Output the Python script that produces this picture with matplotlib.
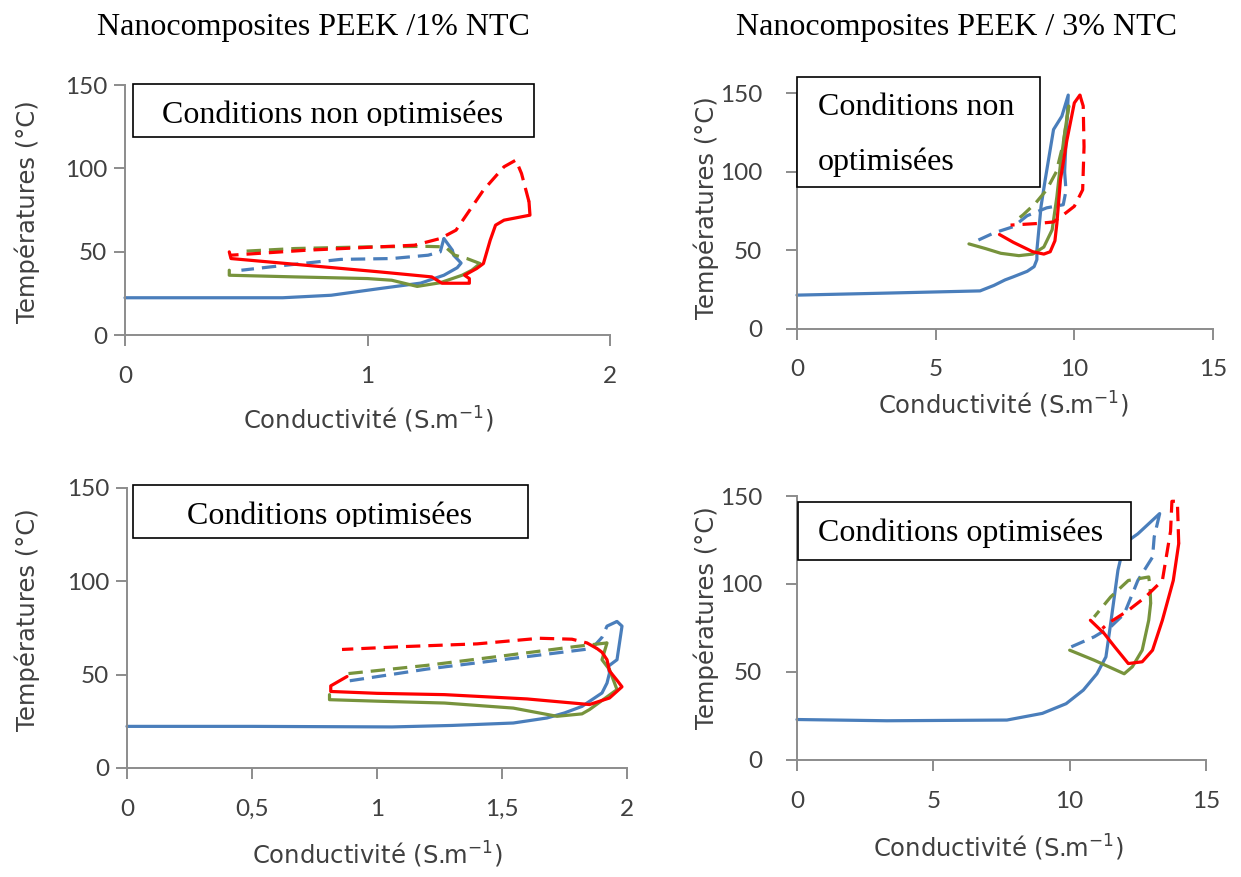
import matplotlib
matplotlib.use('Agg')
import matplotlib.pyplot as plt
from matplotlib.patches import Rectangle

# ---- data ----
# top left : PEEK / 1% NTC, conditions non optimisees
tl_blue_x = [0, 0.3, 0.65, 0.85, 1.05, 1.22, 1.315, 1.37, 1.386, 1.355, 1.35, 1.315]
tl_blue_y = [22.5, 22.5, 22.5, 24, 28, 31.3, 36, 40.5, 43.3, 48, 51, 58]
tl_blue_d_x = [1.315, 1.30, 1.25, 1.1, 0.89, 0.6, 0.48]
tl_blue_d_y = [58, 50, 48, 46, 45.5, 41, 39]
tl_green_x = [0.43, 0.43, 0.7, 1.0, 1.1, 1.205, 1.3, 1.39, 1.43, 1.464]
tl_green_y = [39, 36, 35, 34, 33, 29.3, 31.5, 36, 39, 43]
tl_green_d_x = [1.464, 1.41, 1.36, 1.32, 1.24, 1.0, 0.7, 0.48]
tl_green_d_y = [43, 46, 48, 53, 53.3, 53, 52, 50.3]
tl_red_x = [0.43, 0.437, 1.05, 1.265, 1.307, 1.42, 1.42, 1.40, 1.45, 1.478, 1.506, 1.528, 1.563, 1.67, 1.666]
tl_red_y = [50, 46, 38, 35, 31.2, 31.2, 34, 36, 40, 43, 57, 66, 69, 72, 80]
tl_red_d_x = [1.666, 1.635, 1.612, 1.563, 1.478, 1.365, 1.30, 1.194, 0.75, 0.437]
tl_red_d_y = [80, 97, 105, 101, 87, 63, 58, 54, 51, 48]

# top right : PEEK / 3% NTC, conditions non optimisees
tr_blue_x = [0, 3, 6.6, 7.1, 7.5, 7.8, 8.3, 8.55, 8.65, 8.65, 8.8, 8.95, 9.25, 9.55, 9.78, 9.7, 9.65]
tr_blue_y = [21.3, 22.5, 24, 27.5, 31, 33, 36.5, 39.5, 44, 50, 78, 95, 127, 135.5, 149, 120, 100]
tr_blue_d_x = [9.65, 9.7, 9.6, 9.0, 8.3, 7.8, 7.1, 6.3]
tr_blue_d_y = [100, 88, 79, 77, 72, 65, 61, 54.5]
tr_green_x = [6.2, 6.8, 7.35, 8.0, 8.5, 8.9, 9.2, 9.37, 9.5, 9.67, 9.8]
tr_green_y = [54, 51, 48, 46.5, 47.5, 52, 63, 84, 105, 127, 142]
tr_green_d_x = [9.8, 9.6, 9.35, 9.0, 8.6, 8.15, 7.9]
tr_green_d_y = [142, 118, 100, 88.5, 80, 72.5, 69]
tr_red_x = [7.3, 7.8, 8.5, 8.9, 9.13, 9.3, 9.37, 9.5, 9.73, 10.0, 10.2]
tr_red_y = [60, 55, 49, 47.5, 49, 56, 67, 95, 120, 144, 149]
tr_red_d_x = [10.2, 10.32, 10.35, 10.3, 10.0, 9.6, 9.25, 8.65, 7.7]
tr_red_d_y = [149, 142, 116, 88.5, 78, 72.5, 68, 67, 66]

# bottom left : PEEK / 1% NTC, conditions optimisees
bl_blue_x = [0, 0.5, 1.06, 1.3, 1.545, 1.68, 1.75, 1.82, 1.86, 1.90, 1.92, 1.93, 1.925, 1.96, 1.97, 1.98, 1.96]
bl_blue_y = [22.3, 22.3, 22, 22.8, 24.1, 26.8, 29.5, 33, 36.6, 40.2, 45.5, 50.9, 54.5, 58, 67, 76, 78.5]
bl_blue_d_x = [1.96, 1.92, 1.90, 1.86, 1.5, 1.2, 0.88]
bl_blue_d_y = [78.5, 76, 70, 64, 58, 53, 46.5]
bl_green_x = [0.81, 0.81, 1.0, 1.27, 1.545, 1.72, 1.82, 1.85, 1.96, 1.93, 1.90, 1.92]
bl_green_y = [39.3, 36.6, 35.8, 34.8, 32.1, 27.7, 29, 31.3, 42, 52.7, 58, 67]
bl_green_d_x = [1.92, 1.79, 1.5, 1.2, 0.88, 0.86]
bl_green_d_y = [67, 65, 60, 55, 50.5, 49.5]
bl_red_x = [0.88, 0.815, 0.815, 1.0, 1.27, 1.6, 1.85, 1.93, 1.98, 1.96, 1.93, 1.92, 1.90, 1.88]
bl_red_y = [49, 44, 41, 40, 39.3, 37, 34, 37.5, 43.5, 47, 52, 58, 62, 64]
bl_red_d_x = [1.88, 1.84, 1.78, 1.65, 1.4, 1.1, 0.86]
bl_red_d_y = [64, 67, 69, 69.5, 66.5, 65, 63.5]

# bottom right : PEEK / 3% NTC, conditions optimisees
br_blue_x = [0, 3.3, 7.7, 9.0, 9.87, 10.5, 11.0, 11.33, 11.52, 11.77, 12.0, 12.5, 13.3]
br_blue_y = [23, 22.3, 22.7, 26.5, 32, 39.7, 49, 58.6, 79.4, 107.8, 123, 128.5, 140]
br_blue_d_x = [13.3, 13.1, 13.04, 12.5, 12.0, 11.5, 10.9, 10.06]
br_blue_d_y = [140, 126.7, 115.3, 102, 83, 75.6, 70, 64.3]
br_green_x = [10.0, 10.9, 12.0, 12.3, 12.66, 12.9, 12.97]
br_green_y = [62.4, 56.7, 49, 53, 62.4, 79.4, 89]
br_green_d_x = [12.97, 12.95, 12.9, 12.15, 11.5, 10.9]
br_green_d_y = [89, 98, 104, 102, 92.6, 81.3]
br_red_x = [10.76, 11.27, 11.65, 12.15, 12.66, 13.04, 13.4, 13.8, 14.0]
br_red_y = [79.4, 71.8, 64.3, 54.8, 55.8, 62.4, 79.4, 102, 123]
br_red_d_x = [14.0, 13.95, 13.75, 13.7, 13.4, 12.78, 12.15, 11.4, 11.2]
br_red_d_y = [123, 147, 147, 130, 102, 92.6, 85, 77.5, 74.7]

x_ticks_small = [0, 1, 2]
x_ticks_half = [0, 0.5, 1, 1.5, 2]
x_tick_labels_half = ['0', '0,5', '1', '1,5', '2']
x_ticks_big = [0, 5, 10, 15]
y_ticks = [0, 50, 100, 150]

titles = ['Nanocomposites PEEK /1% NTC', 'Nanocomposites PEEK / 3% NTC']
xlabel = 'Conductivité (S.m$^{-1}$)'
ylabel = 'Températures (°C)'

# ---- style ----
W, H = 1241, 877
BLUE = '#4A7EBB'
GREEN = '#77933C'
RED = '#FF0000'
SPINE = '#8C8C8C'
TXT = '#404040'
LW = 2.3
DASH = (0, (4.5, 2.5))

plt.rcParams['mathtext.fontset'] = 'dejavusans'
plt.rcParams['font.family'] = ['Lato', 'DejaVu Sans']


def px(x, y):
    return x / W, 1 - y / H


def make_axes(fig, x0, x1, y0, y1):
    # x0..x1, y1 (top) .. y0 (bottom) in image pixels
    l, b = px(x0, y0)
    return fig.add_axes([l, b, (x1 - x0) / W, (y0 - y1) / H])


def style_axes(ax, ypad):
    for s in ['top', 'right']:
        ax.spines[s].set_visible(False)
    for s in ['left', 'bottom']:
        ax.spines[s].set_color(SPINE)
        ax.spines[s].set_linewidth(1.4)
    ax.tick_params(direction='out', length=8, width=1.4, color=SPINE,
                   labelsize=17.5, labelcolor=TXT)
    ax.tick_params(axis='y', pad=ypad)
    ax.tick_params(axis='x', pad=14)
    ax.set_ylim(0, 150)
    ax.set_yticks(y_ticks)
    ax.set_facecolor('none')


def draw(ax, series):
    for xs, ys, col, ls in series:
        ax.plot(xs, ys, color=col, lw=LW, linestyle=ls,
                solid_capstyle='round', dash_capstyle='butt', clip_on=False)


def box(fig, x0, y0, x1, y1, visible=True):
    l, b = px(x0, y1)
    r = Rectangle((l, b), (x1 - x0) / W, (y1 - y0) / H, transform=fig.transFigure,
                  facecolor='white', edgecolor='black', lw=1.2, zorder=5)
    if visible:
        fig.add_artist(r)
    return r


fig = plt.figure(figsize=(W / 100, H / 100), dpi=100)

ax_tl = make_axes(fig, 125, 610, 335.3, 85)
ax_tr = make_axes(fig, 797, 1213, 328.5, 93.5)
ax_bl = make_axes(fig, 127, 627, 768, 488)
ax_br = make_axes(fig, 797, 1206, 760, 496)

draw(ax_tl, [(tl_blue_x, tl_blue_y, BLUE, '-'), (tl_blue_d_x, tl_blue_d_y, BLUE, DASH),
             (tl_green_x, tl_green_y, GREEN, '-'), (tl_green_d_x, tl_green_d_y, GREEN, DASH),
             (tl_red_x, tl_red_y, RED, '-'), (tl_red_d_x, tl_red_d_y, RED, DASH)])
draw(ax_tr, [(tr_blue_x, tr_blue_y, BLUE, '-'), (tr_blue_d_x, tr_blue_d_y, BLUE, DASH),
             (tr_green_x, tr_green_y, GREEN, '-'), (tr_green_d_x, tr_green_d_y, GREEN, DASH),
             (tr_red_x, tr_red_y, RED, '-'), (tr_red_d_x, tr_red_d_y, RED, DASH)])
draw(ax_bl, [(bl_blue_x, bl_blue_y, BLUE, '-'), (bl_blue_d_x, bl_blue_d_y, BLUE, DASH),
             (bl_green_x, bl_green_y, GREEN, '-'), (bl_green_d_x, bl_green_d_y, GREEN, DASH),
             (bl_red_x, bl_red_y, RED, '-'), (bl_red_d_x, bl_red_d_y, RED, DASH)])
draw(ax_br, [(br_blue_x, br_blue_y, BLUE, '-'), (br_blue_d_x, br_blue_d_y, BLUE, DASH),
             (br_green_x, br_green_y, GREEN, '-'), (br_green_d_x, br_green_d_y, GREEN, DASH),
             (br_red_x, br_red_y, RED, '-'), (br_red_d_x, br_red_d_y, RED, DASH)])

style_axes(ax_tl, 5)
style_axes(ax_bl, 5)
style_axes(ax_tr, 17)
style_axes(ax_br, 17)

ax_tl.set_xlim(0, 2)
ax_tl.set_xticks(x_ticks_small)
ax_bl.set_xlim(0, 2)
ax_bl.set_xticks(x_ticks_half)
ax_bl.set_xticklabels(x_tick_labels_half)
for ax in (ax_tr, ax_br):
    ax.set_xlim(0, 15)
    ax.set_xticks(x_ticks_big)

# axis labels
for cx, cy in [(368, 420), (1003, 405), (377, 855), (998, 848)]:
    fig.text(*px(cx, cy), xlabel, ha='center', va='center', fontsize=17.5,
             color=TXT, family='DejaVu Sans')
for cx, cy in [(27, 212), (706, 208), (27, 620), (706, 618)]:
    fig.text(*px(cx, cy), ylabel, ha='center', va='center', rotation=90,
             fontsize=17.5, color=TXT, family='DejaVu Sans')

# column titles
serif = 'Liberation Serif'
fig.text(*px(313, 27), titles[0], ha='center', va='center', fontsize=23, family=serif)
fig.text(*px(957, 27), titles[1], ha='center', va='center', fontsize=23, family=serif)

# boxes with the condition labels
box(fig, 133, 84, 534, 137)
t = fig.text(*px(333, 123), 'Conditions non optimisées', ha='center', va='baseline',
             fontsize=23, family=serif, zorder=6)
t.set_clip_path(box(fig, 133, 84, 534, 126, visible=False))

box(fig, 797, 77, 1040, 187)
fig.text(*px(818, 115), 'Conditions non', ha='left', va='baseline', fontsize=23,
         family=serif, zorder=6)
fig.text(*px(818, 170), 'optimisées', ha='left', va='baseline', fontsize=23,
         family=serif, zorder=6)

box(fig, 133, 485, 528, 538)
t = fig.text(*px(330, 524), 'Conditions optimisées', ha='center', va='baseline',
             fontsize=23, family=serif, zorder=6)
t.set_clip_path(box(fig, 133, 485, 528, 527, visible=False))

box(fig, 798, 502, 1131, 560)
fig.text(*px(818, 541), 'Conditions optimisées', ha='left', va='baseline', fontsize=23,
         family=serif, zorder=6)

fig.savefig('out.png', dpi=100)
